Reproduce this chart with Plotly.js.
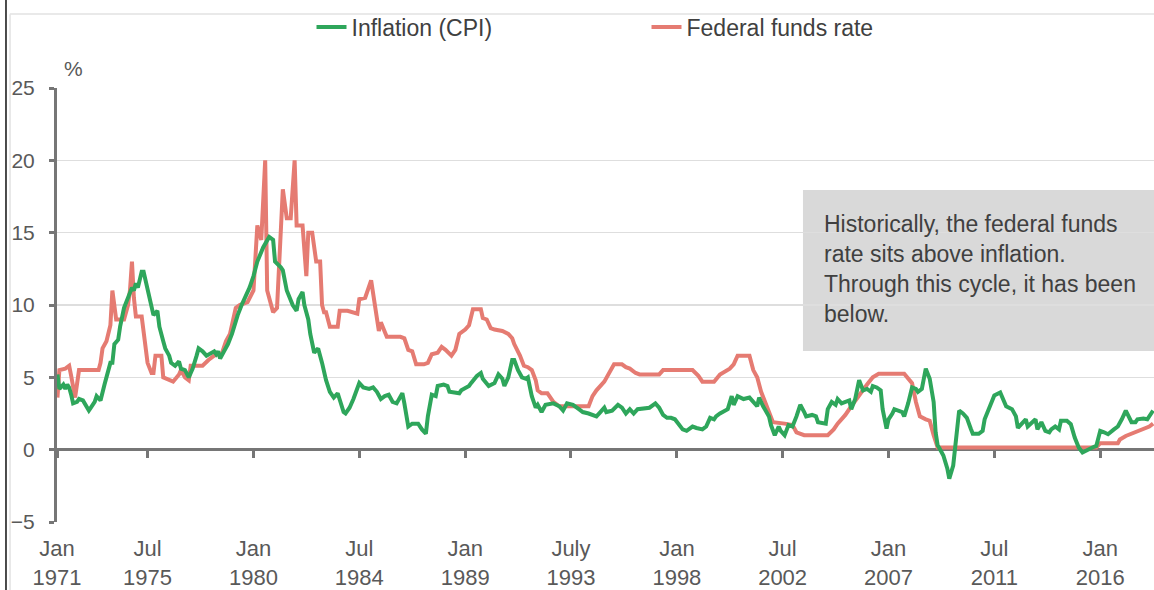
<!DOCTYPE html>
<html>
<head>
<meta charset="utf-8">
<script src="https://cdn.plot.ly/plotly-3.0.1.min.js"></script>
<style>html,body{margin:0;padding:0;background:#fff;}#chart{width:1154px;height:590px;}</style>
</head>
<body>
<div id="chart"></div>
<script>
// ---- Data ----
const cpiDates = [
 '1971-09','1971-10','1971-12',
 '1972-01','1972-02','1972-03','1972-04','1972-05','1972-07','1972-08','1972-10','1972-12',
 '1973-01','1973-02','1973-04','1973-05','1973-07','1973-09','1973-11','1973-12',
 '1974-01','1974-02','1974-04','1974-05','1974-07','1974-09','1974-11','1974-12',
 '1975-01','1975-02','1975-04','1975-05','1975-07','1975-09','1975-10','1975-12',
 '1976-01','1976-03','1976-04','1976-06','1976-07','1976-09','1976-11','1976-12',
 '1977-02','1977-04','1977-06','1977-08','1977-09','1977-11',
 '1978-01','1978-05','1978-06','1978-07','1978-08','1978-10','1978-12',
 '1979-02','1979-04','1979-05','1979-07','1979-10','1979-11',
 '1980-01','1980-03','1980-06','1980-09','1980-11','1980-12',
 '1981-03','1981-04','1981-06','1981-09','1981-11','1981-12',
 '1982-02','1982-03','1982-05','1982-06','1982-08','1982-10','1982-12',
 '1983-02','1983-04','1983-06','1983-08','1983-09','1983-11','1983-12',
 '1984-02','1984-04','1984-06','1984-07','1984-09','1984-12',
 '1985-02','1985-04','1985-06','1985-08','1985-10','1985-12',
 '1986-02','1986-04','1986-05','1986-06','1986-08','1986-10',
 '1987-01','1987-03','1987-05','1987-06','1987-08','1987-10','1987-11',
 '1988-02','1988-04','1988-05','1988-10','1988-11',
 '1989-03','1989-04','1989-07','1989-09','1989-10',
 '1990-01','1990-04','1990-06','1990-08','1990-09','1990-11',
 '1991-01','1991-02','1991-04','1991-06','1991-08','1991-09','1991-11',
 '1992-01','1992-02','1992-04','1992-06','1992-10',
 '1993-01','1993-03','1993-05','1993-08','1993-11',
 '1994-01','1994-04','1994-06','1994-08','1994-10','1994-12',
 '1995-01','1995-04','1995-07','1995-09','1995-11',
 '1996-01','1996-03','1996-05','1996-11','1996-12',
 '1997-02','1997-04','1997-06','1997-08','1997-10','1997-12',
 '1998-02','1998-04','1998-06','1998-09','1998-11',
 '1999-02','1999-04','1999-06','1999-08','1999-09','1999-11',
 '2000-03','2000-05','2000-06','2000-08','2000-11',
 '2001-02','2001-04','2001-06','2001-07','2001-09','2001-12',
 '2002-01','2002-03','2002-05','2002-06','2002-08','2002-10','2002-12',
 '2003-02','2003-04','2003-06','2003-07','2003-10','2003-12',
 '2004-01','2004-05','2004-06','2004-08','2004-10','2004-11',
 '2005-01','2005-03','2005-05','2005-06','2005-08','2005-10','2005-12',
 '2006-02','2006-04','2006-05','2006-07','2006-09','2006-10','2006-12',
 '2007-01','2007-03','2007-04','2007-08','2007-09','2007-11',
 '2008-01','2008-03','2008-04','2008-06','2008-07','2008-08','2008-10','2008-12',
 '2009-01','2009-02','2009-03','2009-05','2009-07','2009-08','2009-10','2009-11',
 '2010-01','2010-03','2010-05','2010-07','2010-08','2010-11',
 '2011-01','2011-02','2011-04','2011-07','2011-10',
 '2012-01','2012-04','2012-06','2012-07','2012-09','2012-11','2012-12',
 '2013-02','2013-04','2013-05','2013-07','2013-09','2013-11','2013-12',
 '2014-02','2014-04','2014-05','2014-08','2014-10','2014-12',
 '2015-02','2015-04','2015-07','2015-09','2015-11',
 '2016-01','2016-03','2016-05','2016-08','2016-10','2016-12',
 '2017-02','2017-05','2017-07','2017-08','2017-11',
 '2018-01','2018-02','2018-04'
];
const cpiValues = [
 5.2,4.2,4.5,
 4.2,4.5,4.3,3.8,3.2,3.3,3.5,3.4,3.0,
 2.7,2.9,3.3,3.7,3.4,4.5,5.5,6.0,
 6.0,7.3,7.6,8.5,9.8,10.5,11.2,11.0,
 11.5,11.2,12.3,12.3,11.0,10.0,9.3,9.6,
 8.5,7.5,7.0,6.5,6.0,5.8,6.1,5.6,
 5.5,5.0,5.6,6.5,7.0,6.8,
 6.5,6.8,6.6,6.8,6.3,6.8,7.3,
 8.0,9.0,9.3,10.0,10.8,11.2,
 12.0,13.0,14.0,14.7,14.5,13.0,
 12.6,12.4,11.0,10.0,9.6,10.4,
 10.9,10.0,9.0,8.0,6.7,7.0,6.0,
 4.8,4.0,3.6,3.9,3.4,2.6,2.5,
 2.9,3.5,4.3,4.6,4.3,4.2,
 4.3,4.0,3.5,3.7,3.8,3.3,
 3.2,3.6,3.9,3.2,1.6,1.8,
 1.8,1.4,1.1,2.3,3.8,3.7,4.4,
 4.5,4.4,4.0,3.9,4.1,
 4.4,4.6,5.1,5.3,4.9,
 4.4,4.6,5.2,4.9,4.4,5.0,
 6.2,6.2,5.5,5.0,4.9,5.0,3.7,
 2.9,3.1,2.6,3.1,3.2,
 3.0,2.7,3.2,3.1,2.8,
 2.6,2.5,2.4,2.3,2.6,2.9,
 2.6,2.7,3.1,2.9,2.5,
 2.8,2.5,2.8,2.9,3.0,
 3.2,2.9,2.4,2.2,2.2,2.1,
 1.7,1.4,1.3,1.6,1.5,
 1.4,1.6,2.2,2.1,2.3,2.5,
 2.8,3.7,3.1,3.7,3.5,
 3.6,3.3,3.0,3.6,3.0,2.3,
 1.7,1.0,1.6,1.3,1.0,1.7,1.6,
 2.3,3.1,2.6,2.3,2.4,2.3,
 1.9,1.8,2.8,3.3,3.1,3.5,
 3.2,3.3,3.4,2.8,3.5,4.8,4.1,
 4.2,4.0,4.4,4.3,4.1,2.8,1.45,
 2.1,2.5,2.8,2.6,2.3,3.2,
 4.3,4.2,4.0,4.2,4.9,5.6,4.9,3.3,
 1.2,0.3,0.1,-0.4,-1.3,-2.0,-1.1,0.3,
 2.7,2.5,2.2,1.45,1.1,1.1,
 1.3,2.1,2.8,3.75,3.95,
 3.0,2.8,2.3,1.5,1.76,2.1,1.6,
 1.9,2.1,1.4,1.9,1.3,1.2,1.4,
 1.6,1.4,2.0,2.0,1.76,0.84,
 0.15,-0.2,0.03,0.15,0.26,
 1.3,1.2,1.07,1.4,1.6,2.1,
 2.7,1.9,1.9,2.1,2.15,
 2.1,2.3,2.7
];

const fedDates = [
 '1971-09','1971-10',
 '1972-01','1972-03','1972-04','1972-06','1972-08',
 '1973-06','1973-07','1973-08','1973-10','1973-12',
 '1974-01','1974-03','1974-07','1974-09','1974-10','1974-11','1974-12',
 '1975-01','1975-04','1975-05','1975-07','1975-09','1975-10','1975-11',
 '1976-02','1976-03','1976-06','1976-08','1976-11','1976-12',
 '1977-02','1977-04','1977-05','1977-11',
 '1978-02','1978-05','1978-09','1978-11',
 '1979-01','1979-04','1979-06','1979-10',
 '1980-01','1980-03','1980-05','1980-07','1980-08','1980-11',
 '1981-01','1981-03','1981-04','1981-06','1981-08','1981-10','1981-11',
 '1982-02','1982-04','1982-05','1982-07','1982-09','1982-11','1982-12',
 '1983-01','1983-02','1983-04','1983-08','1983-09',
 '1984-01','1984-06','1984-07','1984-10',
 '1985-01','1985-03','1985-05','1985-06','1985-09',
 '1986-04','1986-06','1986-08','1986-10','1986-12',
 '1987-04','1987-06','1987-08','1987-11',
 '1988-01','1988-03','1988-06','1988-08','1988-10',
 '1989-01','1989-03','1989-05','1989-09','1989-10','1989-12',
 '1990-02','1990-04','1990-08','1990-11',
 '1991-01','1991-02','1991-05','1991-07','1991-09','1991-11',
 '1992-01','1992-02','1992-04','1992-07','1992-08','1992-10',
 '1993-01',
 '1994-04','1994-06','1994-08','1994-12',
 '1995-03','1995-05','1995-09','1995-11',
 '1996-01','1996-04','1996-06',
 '1997-04','1997-06',
 '1998-09','1998-12',
 '1999-02','1999-08','1999-11',
 '2000-04','2000-06','2000-08',
 '2001-02','2001-04','2001-06','2001-08','2001-11',
 '2002-02','2002-08','2002-12',
 '2003-02','2003-06',
 '2004-06','2004-09','2004-11',
 '2005-03','2005-06','2005-10',
 '2006-02','2006-05','2006-08',
 '2007-09',
 '2008-01','2008-03','2008-05','2008-08','2008-10','2008-12',
 '2009-02',
 '2015-11',
 '2016-01','2016-10','2016-11',
 '2017-02','2017-07','2017-11',
 '2018-02','2018-04'
];
const fedValues = [
 3.6,5.5,
 5.6,5.8,5.1,3.6,5.5,
 5.5,6.0,7.0,7.5,8.6,
 11.0,9.0,9.0,10.0,11.0,13.0,10.5,
 9.2,9.2,8.0,6.0,5.3,5.3,6.5,
 6.5,5.0,4.8,4.7,5.2,5.5,
 5.0,4.8,5.8,5.8,
 6.2,6.5,6.7,7.5,
 8.0,9.8,10.0,10.2,
 11.0,15.5,14.5,20.0,11.0,9.5,
 9.8,15.0,18.0,16.0,16.0,20.0,15.5,
 15.5,12.0,15.0,15.0,13.0,13.0,10.0,
 9.5,9.5,8.5,8.5,9.6,
 9.6,9.4,10.4,10.5,
 11.7,10.0,8.2,8.8,7.8,
 7.8,7.7,6.9,6.8,5.9,
 5.9,6.0,6.6,6.7,
 7.1,6.9,6.5,6.9,8.0,
 8.3,8.6,9.7,9.7,9.1,9.0,
 8.4,8.3,8.2,8.0,
 7.7,7.3,6.5,5.8,5.7,5.5,
 4.8,4.1,3.9,3.9,3.7,3.3,
 3.0,
 3.0,3.7,4.1,4.7,
 5.5,5.9,5.9,5.7,
 5.6,5.3,5.2,
 5.2,5.5,
 5.5,5.1,
 4.7,4.7,5.2,
 5.6,5.9,6.5,
 6.5,5.5,5.0,4.0,3.0,
 1.9,1.8,1.7,
 1.2,1.0,
 1.0,1.4,1.8,
 2.4,3.0,3.8,
 4.5,5.0,5.25,
 5.25,
 4.6,3.3,2.3,2.1,2.0,1.0,
 0.15,
 0.15,
 0.45,0.45,0.7,
 0.95,1.2,1.4,
 1.6,1.8
];

const xRange = ['1971-08-25', '2018-04-15'];
const tickDates = ['1971-08-25','1975-07-01','1980-01-01','1984-07-01','1989-01-01','1993-07-01','1998-01-01','2002-07-01','2007-01-01','2011-07-01','2016-01-01'];
const tickLabels = ['Jan<br>1971','Jul<br>1975','Jan<br>1980','Jul<br>1984','Jan<br>1989','July<br>1993','Jan<br>1998','Jul<br>2002','Jan<br>2007','Jul<br>2011','Jan<br>2016'];
const yTicks = [-5,0,5,10,15,20,25];
const seriesNames = ['Inflation (CPI)', 'Federal funds rate'];
const noteText = 'Historically, the federal funds<br>rate sits above inflation.<br>Through this cycle, it has been<br>below.';

const GREEN = '#2ea65b';
const RED = '#e57b72';
const AXIS = '#767676';
const TXT = '#595959';
const FONT = '"Liberation Sans", Arial, Helvetica, sans-serif';

const traces = [
  {x: cpiDates, y: cpiValues, name: seriesNames[0], type: 'scatter', mode: 'lines',
   xaxis: 'x2', yaxis: 'y', line: {color: GREEN, width: 4}, hoverinfo: 'skip'},
  {x: fedDates, y: fedValues, name: seriesNames[1], type: 'scatter', mode: 'lines',
   xaxis: 'x', yaxis: 'y', line: {color: RED, width: 4}, hoverinfo: 'skip'}
];

const layout = {
  width: 1154, height: 590,
  margin: {l: 57, r: 0, t: 88, b: 68, pad: 0},
  paper_bgcolor: '#ffffff', plot_bgcolor: '#ffffff',
  font: {family: FONT, color: TXT, size: 21},
  showlegend: true,
  legend: {orientation: 'h', x: 0.232, xanchor: 'left', y: 1.1406, yanchor: 'middle',
           font: {family: FONT, size: 23, color: '#404040'}, entrywidth: 290, entrywidthmode: 'pixels',
           bgcolor: 'rgba(0,0,0,0)', traceorder: 'normal'},
  xaxis: {type: 'date', range: xRange, tickmode: 'array', tickvals: tickDates, ticktext: tickLabels,
          ticks: '', showline: false, showgrid: false, zeroline: false,
          tickfont: {family: FONT, size: 22, color: TXT}, ticklabelstandoff: 11, fixedrange: true},
  xaxis2: {type: 'date', range: xRange, overlaying: 'x', anchor: 'free', position: 5/30,
           tickmode: 'array', tickvals: tickDates, ticks: 'outside', ticklen: 7, tickwidth: 3, tickcolor: AXIS,
           showticklabels: false, showgrid: false, showline: false, zeroline: false, fixedrange: true},
  yaxis: {range: [-5, 25], tickmode: 'array', tickvals: yTicks, showgrid: true, gridcolor: '#dedede', gridwidth: 1.5,
          zeroline: true, zerolinecolor: AXIS, zerolinewidth: 3,
          showline: true, linecolor: AXIS, linewidth: 3, ticks: 'outside', ticklen: 5, tickwidth: 3, tickcolor: AXIS,
          tickfont: {family: FONT, size: 21, color: TXT}, ticklabelstandoff: 10, fixedrange: true},
  shapes: [
    {type: 'rect', xref: 'paper', yref: 'paper', x0: 0.680, x1: 1.0, y0: 0.394, y1: 0.765,
     fillcolor: '#d9d9d9', line: {width: 0}, layer: 'below'},
    {type: 'line', xref: 'paper', yref: 'paper', x0: -0.0465, x1: -0.0465, y0: -0.16, y1: 1.21,
     line: {color: '#111111', width: 1.5}},
    {type: 'line', xref: 'paper', yref: 'paper', x0: -0.0428, x1: -0.0428, y0: -0.16, y1: 1.17,
     line: {color: '#e2e2e2', width: 1.5}},
    {type: 'line', xref: 'paper', yref: 'paper', x0: -0.043, x1: 1.0, y0: 1.1705, y1: 1.1705,
     line: {color: '#e2e2e2', width: 1.5}}
  ],
  annotations: [
    {text: noteText, xref: 'paper', yref: 'paper', x: 0.697, y: 0.582, xanchor: 'left', yanchor: 'middle',
     align: 'left', showarrow: false, font: {family: FONT, size: 23, color: '#404040'}},
    {text: '%', xref: 'paper', yref: 'paper', x: 0.0146, y: 1.046, xanchor: 'center', yanchor: 'middle',
     showarrow: false, font: {family: FONT, size: 21, color: TXT}}
  ]
};

Plotly.newPlot('chart', traces, layout, {displayModeBar: false, staticPlot: true});
</script>
</body>
</html>
